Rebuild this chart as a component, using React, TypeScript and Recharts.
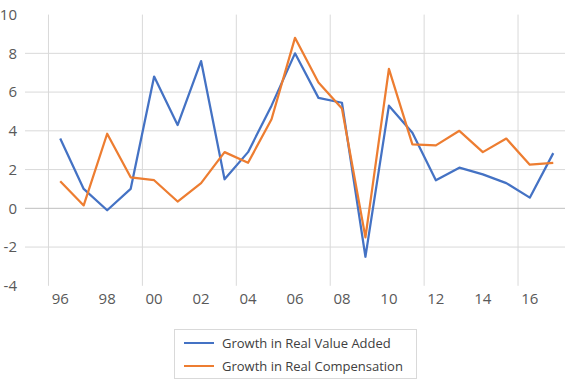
import React from 'react';
import { LineChart, Line, XAxis, YAxis, CartesianGrid, ReferenceLine } from 'recharts';

// --- Data ---

const years = ['96', '97', '98', '99', '00', '01', '02', '03', '04', '05', '06', '07', '08', '09', '10', '11', '12', '13', '14', '15', '16', '17'];

const valueAdded = [3.6, 1.0, -0.1, 1.0, 6.8, 4.3, 7.6, 1.5, 2.9, 5.3, 8.0, 5.7, 5.45, -2.5, 5.3, 3.9, 1.45, 2.1, 1.75, 1.3, 0.55, 2.85];
const compensation = [1.4, 0.15, 3.85, 1.6, 1.45, 0.35, 1.3, 2.9, 2.35, 4.6, 8.8, 6.5, 5.15, -1.5, 7.2, 3.3, 3.25, 4.0, 2.9, 3.6, 2.25, 2.35];

const yTicks = [-4, -2, 0, 2, 4, 6, 8, 10];
const gridValues = [-2, 2, 4, 6, 8];

const seriesNames = ['Growth in Real Value Added', 'Growth in Real Compensation'];
const seriesColors = ['#4472C4', '#ED7D31'];

const chartData = years.map((year, i) => ({
    year,
    valueAdded: valueAdded[i],
    compensation: compensation[i],
}));

// --- Layout ---

const WIDTH = 570;
const HEIGHT = 381;
// plot area spans 23 category slots, the first one left empty
const SLOTS = 23;
const BAND = 540 / SLOTS;

const FONT = '"Open Sans", "Noto Sans", sans-serif';
const TEXT = '#595959';

const Legend = () => (
    <div
        style={{
            position: 'absolute',
            left: 174,
            top: 329,
            width: 241,
            height: 48,
            border: '1px solid #d9d9d9',
            background: '#fff',
        }}
    >
        {seriesNames.map((name, i) => (
            <div
                key={name}
                style={{ position: 'absolute', left: 9, top: 3 + i * 23, height: 20, display: 'flex', alignItems: 'center' }}
            >
                <span style={{ display: 'inline-block', width: 30, height: 2.5, background: seriesColors[i] }} />
                <span style={{ marginLeft: 8, fontSize: 13, color: '#404040', whiteSpace: 'nowrap' }}>{name}</span>
            </div>
        ))}
    </div>
);

export default function App() {
    return (
        <div style={{ position: 'absolute', left: 0, top: 0, width: WIDTH, height: HEIGHT, background: '#fff', fontFamily: FONT }}>
            <LineChart
                width={WIDTH}
                height={HEIGHT}
                data={chartData}
                margin={{ top: 14.6, right: 5, left: 0, bottom: 65.2 }}
            >
                <CartesianGrid
                    horizontal={false}
                    stroke="#d9d9d9"
                    strokeWidth={1}
                    verticalCoordinatesGenerator={({ offset }: any) => {
                        const band = offset.width / SLOTS;
                        return [1, 5, 9, 13, 17, 21].map((k) => offset.left + k * band);
                    }}
                />
                {gridValues.map((v) => (
                    <ReferenceLine key={v} y={v} stroke="#d9d9d9" strokeWidth={1} />
                ))}
                <ReferenceLine y={0} stroke="#bfbfbf" strokeWidth={1} />
                <XAxis
                    dataKey="year"
                    interval={1}
                    axisLine={false}
                    tickLine={false}
                    padding={{ left: BAND * 1.5, right: BAND * 0.5 }}
                    tick={{ fontSize: 15, fill: TEXT, fontFamily: FONT }}
                />
                <YAxis
                    width={25}
                    domain={[-4, 10]}
                    ticks={yTicks}
                    axisLine={false}
                    tickLine={false}
                    tick={{ fontSize: 15, fill: TEXT, fontFamily: FONT }}
                />
                <Line
                    type="linear"
                    dataKey="valueAdded"
                    name={seriesNames[0]}
                    stroke={seriesColors[0]}
                    strokeWidth={2.25}
                    strokeLinejoin="round"
                    dot={false}
                    isAnimationActive={false}
                />
                <Line
                    type="linear"
                    dataKey="compensation"
                    name={seriesNames[1]}
                    stroke={seriesColors[1]}
                    strokeWidth={2.25}
                    strokeLinejoin="round"
                    dot={false}
                    isAnimationActive={false}
                />
            </LineChart>
            <Legend />
        </div>
    );
}
